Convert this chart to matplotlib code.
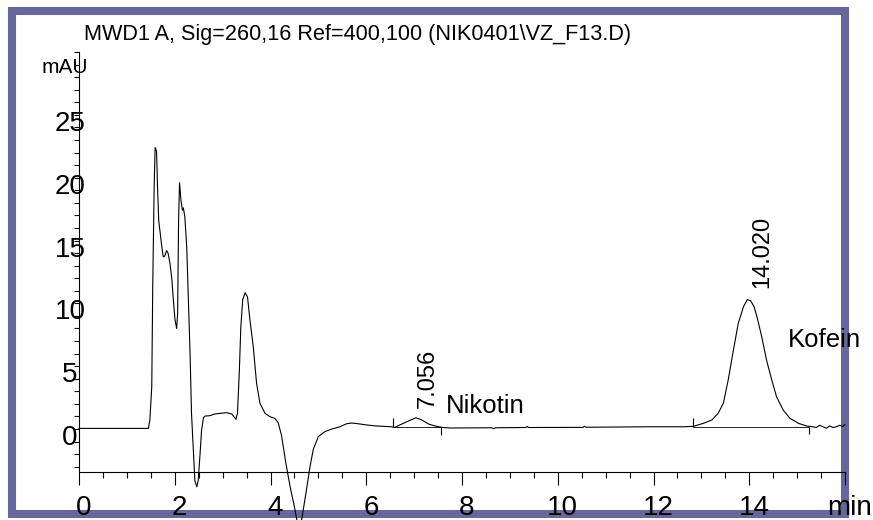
#!/usr/bin/env python3
# Chromatogram MWD1 A, Sig=260 - Nikotin / Kofein

import matplotlib
matplotlib.use("Agg")
from matplotlib import pyplot as plt
from matplotlib.patches import Rectangle
from matplotlib.transforms import ScaledTranslation
import numpy as np

################
#   DATA       #
################
# retention time (min) / signal (mAU)
trace_time = [0.00, 1.45, 1.48, 1.52, 1.54, 1.57, 1.59, 1.62, 1.64, 1.665,
              1.69, 1.73, 1.76, 1.79, 1.83, 1.86, 1.90, 1.94, 1.97, 2.005,
              2.04, 2.06, 2.08, 2.10, 2.13, 2.16, 2.18, 2.21, 2.25, 2.28,
              2.32, 2.35, 2.39, 2.42, 2.46, 2.49, 2.53, 2.56, 2.60, 2.63,
              2.73, 2.84, 3.08, 3.19, 3.28, 3.31, 3.35, 3.38, 3.42, 3.47,
              3.52, 3.57, 3.64, 3.71, 3.78, 3.885, 3.99, 4.09, 4.16, 4.23,
              4.32, 4.41, 4.50, 4.60, 4.66, 4.74, 4.825, 4.895, 5.00, 5.14,
              5.28, 5.45, 5.59, 5.70, 5.83, 6.01, 6.22, 6.53, 6.60, 6.70,
              6.88, 7.04, 7.16, 7.30, 7.44, 7.58, 7.75, 8.62, 8.66, 8.70,
              9.33, 9.36, 9.39, 10.53, 10.56, 10.59, 11.93, 12.66, 12.84, 13.04,
              13.22, 13.35, 13.46, 13.56, 13.67, 13.77, 13.88, 13.96, 14.03, 14.10,
              14.17, 14.26, 14.36, 14.47, 14.57, 14.71, 14.85, 15.03, 15.20, 15.33,
              15.40, 15.47, 15.54, 15.61, 15.68, 15.75, 15.82, 15.89, 15.95, 16.00]
trace_mau = [0.05, 0.05, 0.7, 3.4, 11.3, 19.3, 22.4, 22.1, 19.3, 16.6,
             15.8, 14.5, 13.7, 13.75, 14.2, 14.0, 13.2, 11.9, 10.3, 8.7,
             8.0, 9.2, 16.6, 19.6, 18.2, 17.4, 17.6, 16.9, 14.5, 10.8,
             6.0, 1.25, -1.9, -4.1, -4.6, -4.1, -1.9, -0.1, 0.9, 1.03,
             1.06, 1.2, 1.3, 1.2, 0.77, 1.25, 4.7, 8.1, 10.3, 10.85,
             10.5, 8.7, 6.55, 3.6, 2.05, 1.25, 0.98, 0.85, 0.5, -0.5,
             -2.7, -4.6, -6.2, -8.3, -7.0, -5.1, -3.0, -1.6, -0.6, -0.2,
             0.0, 0.18, 0.42, 0.48, 0.42, 0.32, 0.24, 0.18, 0.13, 0.32,
             0.64, 0.9, 0.72, 0.4, 0.24, 0.13, 0.08, 0.1, 0.02, 0.1,
             0.12, 0.2, 0.12, 0.13, 0.22, 0.14, 0.18, 0.18, 0.22, 0.45,
             0.72, 1.25, 2.05, 3.9, 6.3, 8.4, 9.74, 10.3, 10.2, 9.74,
             8.8, 7.35, 5.5, 3.9, 2.57, 1.5, 0.85, 0.45, 0.24, 0.18,
             0.12, 0.3, 0.18, 0.06, 0.24, 0.12, 0.18, 0.3, 0.2, 0.35]

# integrated peaks
peak_rt = ["7.056", "14.020"]
peak_names = ["Nikotin", "Kofein"]
peak_start = [6.55, 12.83]
peak_end = [7.57, 15.25]
peak_base = [0.15, 0.2]
rt_label_x = [7.29, 14.27]
rt_label_y = [1.67, 11.2]
name_x = [7.67, 14.81]
name_y = [1.27, 6.53]

x_major = [0, 2, 4, 6, 8, 10, 12, 14, 16]
x_labels = ["0", "2", "4", "6", "8", "10", "12", "14", "min"]
y_major = [0, 5, 10, 15, 20, 25]
y_labels = ["0", "5", "10", "15", "20", "25"]

TITLE = r"MWD1 A, Sig=260,16 Ref=400,100 (NIK0401\VZ_F13.D)"
FRAME_COLOR = "#67679b"

plt.rcParams["font.family"] = ["Liberation Sans", "DejaVu Sans"]

W, H = 873, 520
fig = plt.figure(figsize=(W / 100, H / 100), dpi=100)
ax = fig.add_axes([79 / W, 48 / H, 766 / W, 420 / H])
ax.patch.set_visible(False)

# purple frame behind everything
frame = Rectangle((11.5 / W, 6.5 / H), (845 - 11.5) / W, (513.5 - 10.5) / H,
                  transform=fig.transFigure, fill=False,
                  edgecolor=FRAME_COLOR, linewidth=5.8, zorder=-1)
fig.add_artist(frame)

ax.plot(trace_time, trace_mau, color="black", linewidth=0.8, clip_on=False)

# baselines and start/stop marks of the integration
ax.hlines(peak_base, peak_start, peak_end, color="black", linewidth=0.6)
ax.vlines(peak_start, peak_base, np.array(peak_base) + 0.7, color="black", linewidth=0.8)
ax.vlines(peak_end, np.array(peak_base) - 0.6, peak_base, color="black", linewidth=0.8)

for i in range(len(peak_rt)):
    ax.text(rt_label_x[i], rt_label_y[i], peak_rt[i], rotation=90,
            ha="center", va="bottom", fontsize=17)
    ax.text(name_x[i], name_y[i], peak_names[i], ha="left", va="baseline",
            fontsize=18.5)

ax.set_xlim(0, 16)
ax.set_ylim(-3.42, 30)
for side in ("top", "right"):
    ax.spines[side].set_visible(False)
for side in ("left", "bottom"):
    ax.spines[side].set_linewidth(0.8)

ax.set_xticks(x_major)
ax.set_xticks(np.arange(0, 16.5, 0.5), minor=True)
ax.set_xticklabels(x_labels)
ax.set_yticks(y_major)
ax.set_yticks(np.arange(-3, 31, 1), minor=True)
ax.set_yticklabels(y_labels, ha="center")

ax.tick_params(axis="x", which="major", length=9.4, width=0.8, labelsize=20, pad=7)
ax.tick_params(axis="x", which="minor", length=4.3, width=0.8)
ax.tick_params(axis="y", which="both", length=3.6, width=0.8)
ax.tick_params(axis="y", which="major", labelsize=20, pad=2.9)

shift_x = ScaledTranslation(5 / 100, 0, fig.dpi_scale_trans)
for lbl in ax.get_xticklabels():
    lbl.set_transform(lbl.get_transform() + shift_x)
shift_y = ScaledTranslation(0, -6 / 100, fig.dpi_scale_trans)
for lbl in ax.get_yticklabels():
    lbl.set_transform(lbl.get_transform() + shift_y)

fig.text(84 / W, (H - 40) / H, TITLE, fontsize=15.6, ha="left", va="baseline")
fig.text(41.7 / W, (H - 72.7) / H, "mAU", fontsize=15, ha="left", va="baseline")

plt.savefig("out.png", dpi=100)
